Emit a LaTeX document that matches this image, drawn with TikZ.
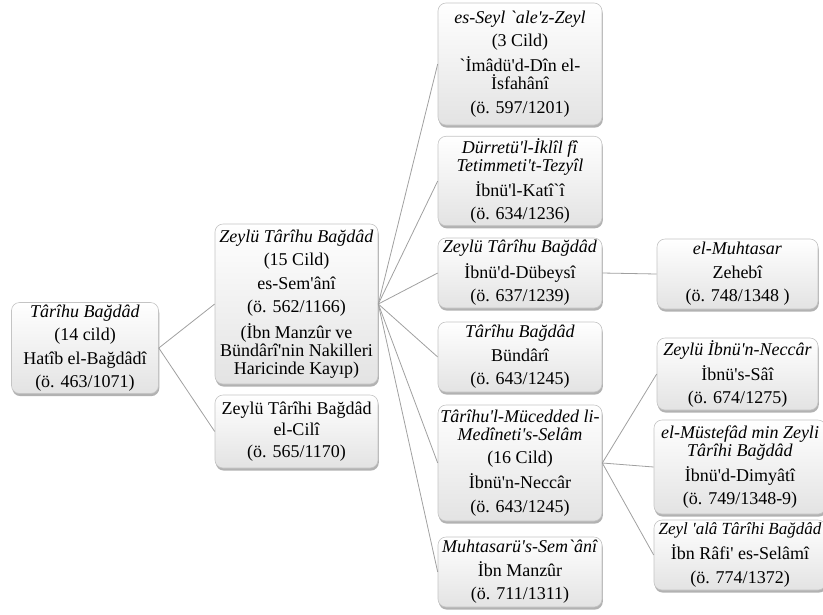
\documentclass[tikz,border=0pt]{standalone}
\usepackage{fontspec}
\setmainfont{Liberation Serif}[Ligatures=TeXOff]
\usetikzlibrary{shadows}
\definecolor{boxline}{HTML}{C4C4C4}
\definecolor{conn}{HTML}{A0A0A0}
\tikzset{
  box/.style={draw=boxline, line width=0.6pt, rounded corners=8pt,
    top color=white, bottom color=black!11,
    drop shadow={shadow xshift=0.8pt, shadow yshift=-2.6pt, fill=black!55, opacity=0.55},
    align=center, inner sep=2pt, text=black,
    font=\fontsize{18}{18}\selectfont},
  c2/.style={box, minimum width=163pt},
  c3/.style={box, minimum width=164pt},
  c4/.style={box, minimum width=161pt},
  c4w/.style={box, minimum width=172pt},
  conn/.style={draw=conn, line width=0.8pt}
}
\begin{document}
\begin{tikzpicture}[x=1pt,y=-1pt]
\useasboundingbox (0,0) rectangle (823,614);
% column 1
\node[box, minimum width=147pt, minimum height=91pt] (root) at (85,348)
  {\textit{Târîhu Bağdâd}\\[5.5pt](14 cild)\\[5.5pt]Hatîb el-Bağdâdî\\[5.5pt](ö. 463/1071)};
% column 2
\node[c2, minimum height=160pt] (b2) at (296.5,304)
  {\textit{Zeylü Târîhu Bağdâd}\\[5.5pt](15 Cild)\\[5.5pt]es-Sem'ânî\\[5.5pt](ö. 562/1166)\\[5.5pt](İbn Manzûr ve\\Bündârî'nin Nakilleri\\Haricinde Kayıp)};
\node[c2, minimum height=73pt] (cili) at (296.5,431.5)
  {Zeylü Târîhi Bağdâd\\[3.5pt]el-Cilî\\[3.5pt](ö. 565/1170)};
% column 3
\node[c3, minimum height=122pt] (seyl) at (520,64)
  {\textit{es-Seyl `ale'z-Zeyl}\\[5.5pt](3 Cild)\\[5.5pt]`İmâdü'd-Dîn el-\\İsfahânî\\[5.5pt](ö. 597/1201)};
\node[c3, minimum height=88pt] (durre) at (520,181)
  {\textit{Dürretü'l-İklîl fî}\\\textit{Tetimmeti't-Tezyîl}\\[5.5pt]İbnü'l-Katî`î\\[5.5pt](ö. 634/1236)};
\node[c3, minimum height=70pt] (dubeysi) at (520,273)
  {\textit{Zeylü Târîhu Bağdâd}\\[5.5pt]İbnü'd-Dübeysî\\[5.5pt](ö. 637/1239)};
\node[c3, minimum height=70pt] (bundari) at (520,357)
  {\textit{Târîhu Bağdâd}\\[5.5pt]Bündârî\\[5.5pt](ö. 643/1245)};
\node[c3, minimum height=116pt] (mucedded) at (520,463)
  {\textit{Târîhu'l-Mücedded li-}\\\textit{Medîneti's-Selâm}\\[5.5pt](16 Cild)\\[5.5pt]İbnü'n-Neccâr\\[5.5pt](ö. 643/1245)};
\node[c3, minimum height=70pt] (muhtasaru) at (520,572)
  {\textit{Muhtasarü's-Sem`ânî}\\[5.5pt]İbn Manzûr\\[5.5pt](ö. 711/1311)};
% column 4
\node[c4, minimum height=70pt] (muhtasar) at (737.5,274)
  {\textit{el-Muhtasar}\\[5.5pt]Zehebî\\[5.5pt](ö. 748/1348 )};
\node[c4, minimum height=72pt] (neccar) at (737.5,374)
  {\textit{Zeylü İbnü'n-Neccâr}\\[5.5pt]İbnü's-Sâî\\[5.5pt](ö. 674/1275)};
\node[c4w, minimum height=94pt] (mustefad) at (740,467)
  {\textit{el-Müstefâd min Zeyli}\\\textit{Târîhi Bağdâd}\\[5.5pt]İbnü'd-Dimyâtî\\[5.5pt](ö. 749/1348-9)};
\node[c4w, minimum height=70pt] (zeylala) at (740,555)
  {{\fontsize{17}{18}\selectfont\textit{Zeyl 'alâ Târîhi Bağdâd}}\\[5.5pt]İbn Râfi' es-Selâmî\\[5.5pt](ö. 774/1372)};
% connectors
\draw[conn] (root.east) -- (b2.west);
\draw[conn] (root.east) -- (cili.west);
\foreach \t in {seyl,durre,dubeysi,bundari,mucedded,muhtasaru}
  \draw[conn] (b2.east) -- (\t.west);
\draw[conn] (dubeysi.east) -- (muhtasar.west);
\foreach \t in {neccar,mustefad,zeylala}
  \draw[conn] (mucedded.east) -- (\t.west);
\end{tikzpicture}
\end{document}
